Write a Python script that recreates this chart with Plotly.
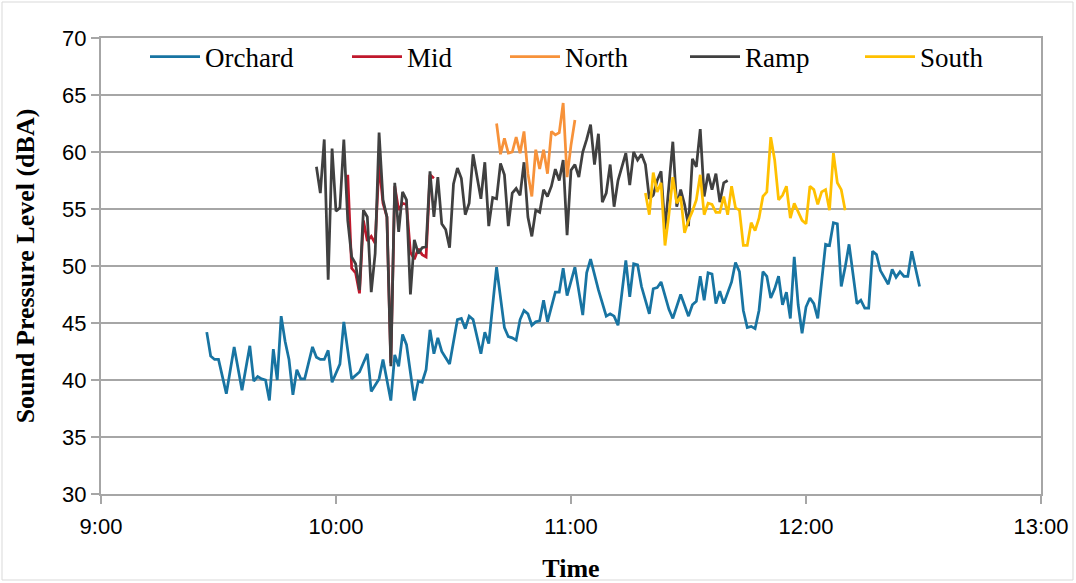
import plotly.graph_objects as go
import pandas as pd

# ---------------- data ----------------
orchard_time = ["9:27","9:28","9:29","9:30","9:32","9:34","9:36","9:38","9:39","9:40",
                "9:41","9:42","9:43","9:44","9:45","9:46","9:47","9:48","9:49","9:50",
                "9:51","9:52","9:54","9:55","9:56","9:57","9:58","9:59","10:01","10:02",
                "10:04","10:06","10:08","10:09","10:11","10:12","10:14","10:15","10:16","10:17",
                "10:18","10:20","10:21","10:22","10:23","10:24","10:25","10:26","10:27","10:29",
                "10:31","10:32","10:33","10:34","10:35","10:37","10:38","10:39","10:41","10:43",
                "10:44","10:45","10:46","10:47","10:48","10:49","10:50","10:51","10:52","10:53",
                "10:54","10:56","10:57","10:58","10:59","11:01","11:03","11:04","11:05","11:07",
                "11:09","11:10","11:11","11:12","11:14","11:15","11:16","11:17","11:18","11:20",
                "11:21","11:22","11:23","11:25","11:26","11:28","11:30","11:31","11:32","11:33",
                "11:34","11:35","11:36","11:37","11:38","11:39","11:41","11:42","11:43","11:44",
                "11:45","11:46","11:47","11:48","11:49","11:50","11:51","11:52","11:53","11:54",
                "11:55","11:56","11:57","11:58","11:59","12:00","12:01","12:02","12:03","12:05",
                "12:06","12:07","12:08","12:09","12:10","12:11","12:13","12:14","12:15","12:16",
                "12:17","12:18","12:19","12:21","12:22","12:23","12:24","12:25","12:26","12:27",
                "12:29"]
orchard_dba = [44.2,42.1,41.8,41.8,38.8,42.9,39.1,43.0,39.9,40.3,
               40.1,40.0,38.2,42.7,40.0,45.6,43.4,41.8,38.7,40.9,
               40.1,40.1,42.9,42.0,41.8,41.8,42.6,39.8,41.4,45.1,
               40.1,40.7,42.3,39.0,40.1,41.8,38.2,42.2,41.2,44.0,
               43.1,38.2,39.9,39.8,40.9,44.4,42.3,43.7,42.5,41.4,
               45.3,45.4,44.5,45.6,45.3,42.3,44.2,43.2,49.9,44.6,
               43.8,43.7,43.5,45.3,46.1,45.8,44.8,45.1,45.2,47.0,
               45.1,47.7,47.7,49.8,47.4,49.9,45.7,49.4,50.6,47.9,
               45.6,45.8,45.6,44.8,50.5,47.3,50.2,50.1,48.2,45.8,
               48.0,48.1,48.6,46.2,45.4,47.5,45.6,46.6,46.9,49.1,
               47.0,49.4,49.3,46.7,47.8,46.7,48.6,50.3,49.5,46.1,
               44.6,44.7,44.5,46.1,49.5,49.1,47.2,48.0,49.1,46.6,
               47.7,45.4,50.8,46.6,44.1,46.4,47.2,46.7,45.4,51.9,
               51.8,53.8,53.7,48.2,49.9,51.9,46.7,47.0,46.3,46.3,
               51.3,51.0,49.6,48.4,49.7,49.0,49.5,49.1,49.1,51.3,
               48.2]

mid_time = ["10:03","10:04","10:05","10:06","10:07","10:08","10:09","10:10","10:11","10:12",
            "10:13","10:14","10:15","10:16","10:17","10:18","10:19","10:20","10:21","10:22",
            "10:23","10:24","10:25"]
mid_dba = [58.0,49.8,49.4,47.6,54.0,52.2,52.6,52.0,59.0,55.5,
           54.3,41.5,57.0,54.9,55.5,55.4,51.2,50.6,51.5,51.0,
           50.8,58.0,57.7]

north_time = ["10:41","10:42","10:43","10:44","10:45","10:46","10:47","10:48","10:49","10:50",
              "10:51","10:52","10:53","10:54","10:55","10:56","10:57","10:58","10:59","11:00",
              "11:01"]
north_dba = [62.5,59.8,61.2,59.9,60.0,61.3,59.9,61.8,58.1,56.1,
             60.2,58.5,60.2,58.1,61.8,61.5,61.7,64.3,57.8,60.6,
             62.8]

ramp_time = ["9:55","9:56","9:57","9:58","9:59","10:00","10:01","10:02","10:03","10:04",
             "10:05","10:06","10:07","10:08","10:09","10:10","10:11","10:12","10:13","10:14",
             "10:15","10:16","10:17","10:18","10:19","10:20","10:21","10:22","10:23","10:24",
             "10:25","10:26","10:27","10:28","10:29","10:30","10:31","10:32","10:33","10:34",
             "10:35","10:36","10:37","10:38","10:39","10:40","10:41","10:42","10:43","10:44",
             "10:45","10:46","10:47","10:48","10:49","10:50","10:51","10:52","10:53","10:54",
             "10:55","10:56","10:57","10:58","10:59","11:00","11:01","11:02","11:03","11:04",
             "11:05","11:06","11:07","11:08","11:09","11:10","11:11","11:12","11:13","11:14",
             "11:15","11:16","11:17","11:18","11:19","11:20","11:21","11:22","11:23","11:24",
             "11:26","11:27","11:28","11:29","11:30","11:31","11:32","11:33","11:34","11:35",
             "11:36","11:37","11:38","11:39","11:40"]
ramp_dba = [58.7,56.4,61.1,48.8,60.3,54.8,55.1,61.1,54.0,50.8,
            50.2,47.9,54.9,54.3,47.7,51.1,61.7,55.8,54.3,41.2,
            57.3,53.0,56.5,55.8,47.5,52.3,51.1,51.6,51.7,58.3,
            54.3,57.8,53.7,53.2,51.6,57.2,58.6,57.7,54.5,55.5,
            59.8,58.0,55.9,59.1,53.5,56.0,55.9,59.0,58.0,53.5,
            56.4,56.8,56.2,59.1,54.3,52.6,54.9,54.7,56.7,56.1,
            57.0,58.5,57.5,59.3,52.7,58.4,58.9,57.8,60.0,61.1,
            62.4,58.9,61.6,55.6,56.4,58.9,55.2,57.5,58.6,59.9,
            57.1,60.0,59.3,59.8,58.9,55.9,56.2,57.5,58.3,53.2,
            60.9,55.2,56.7,55.4,53.5,59.4,58.7,62.0,56.1,58.1,
            56.7,58.1,55.6,57.3,57.5]

south_time = ["11:19","11:20","11:21","11:22","11:23","11:24","11:25","11:26","11:27","11:28",
              "11:29","11:30","11:31","11:32","11:33","11:34","11:35","11:36","11:37","11:38",
              "11:39","11:40","11:41","11:42","11:43","11:44","11:45","11:46","11:47","11:48",
              "11:49","11:50","11:51","11:52","11:53","11:54","11:55","11:56","11:57","11:58",
              "11:59","12:00","12:01","12:02","12:03","12:04","12:05","12:06","12:07","12:08",
              "12:09","12:10"]
south_dba = [56.4,54.5,58.2,56.5,57.3,51.8,54.5,57.8,55.5,56.1,
             52.9,54.0,54.8,55.8,58.0,54.5,55.5,55.4,54.7,54.7,
             56.1,54.5,57.0,55.1,54.9,51.8,51.8,53.8,53.1,54.2,
             56.1,56.5,61.3,59.3,55.8,56.2,57.0,54.2,55.5,54.8,
             54.0,53.7,57.0,56.7,55.4,56.5,56.7,54.9,59.9,57.3,
             56.7,54.9]

series_names = ["Orchard", "Mid", "North", "Ramp", "South"]
series_colors = ["#1874a2", "#c0182c", "#f7923a", "#404040", "#ffc000"]

x_ticks = ["9:00", "10:00", "11:00", "12:00", "13:00"]
y_ticks = [30, 35, 40, 45, 50, 55, 60, 65, 70]


def to_dt(times):
    out = []
    for t in times:
        h, m = t.split(":")
        out.append(pd.Timestamp("2000-01-01") + pd.Timedelta(hours=int(h), minutes=int(m)))
    return out


series = [(orchard_time, orchard_dba), (mid_time, mid_dba), (north_time, north_dba),
          (ramp_time, ramp_dba), (south_time, south_dba)]

# ---------------- layout geometry ----------------
W, H = 1076, 583
ML, MR, MT, MB = 101, 35, 38, 89
PW, PH = W - ML - MR, H - MT - MB

serif = "Liberation Serif"
sans = "Liberation Sans"
grid_col = "#a6a6a6"

fig = go.Figure()
legend_px = [145, 347, 505, 685, 860]  # left edge of each legend entry (px)
for i, ((t, v), name, col) in enumerate(zip(series, series_names, series_colors)):
    lg = "legend" if i == 0 else f"legend{i+1}"
    fig.add_trace(go.Scatter(x=to_dt(t), y=v, mode="lines", name=name,
                             line=dict(color=col, width=2.75), legend=lg))

legend_common = dict(orientation="h", xanchor="left", yanchor="middle",
                     bgcolor="rgba(0,0,0,0)", font=dict(family=serif, size=27, color="#000"),
                     itemwidth=50)
leg_layout = {}
for i, px in enumerate(legend_px):
    key = "legend" if i == 0 else f"legend{i+1}"
    leg_layout[key] = dict(legend_common, x=(px - ML) / PW, y=(H - MB - 57) / PH)

dt_ticks = to_dt(x_ticks)
fig.update_layout(
    width=W, height=H,
    margin=dict(l=ML, r=MR, t=MT, b=MB, pad=0, autoexpand=False),
    paper_bgcolor="white", plot_bgcolor="white",
    showlegend=True,
    xaxis=dict(type="date", range=[dt_ticks[0], dt_ticks[-1]],
               tickvals=dt_ticks, ticktext=x_ticks, automargin=False,
               showgrid=False, zeroline=False,
               showline=True, linecolor=grid_col, linewidth=2, mirror=True,
               ticks="outside", ticklen=8, tickcolor=grid_col, tickwidth=1.5,
               ticklabelstandoff=4,
               tickfont=dict(family=sans, size=22, color="#000"),
               title=dict(text="<b>Time</b>", font=dict(family=serif, size=26, color="#000"),
                          standoff=20)),
    yaxis=dict(range=[30, 70], tickvals=y_ticks, automargin=False,
               showgrid=True, gridcolor=grid_col, gridwidth=1.5, zeroline=False,
               showline=True, linecolor=grid_col, linewidth=2, mirror=True,
               ticks="outside", ticklen=8, tickcolor=grid_col, tickwidth=1.5,
               tickfont=dict(family=sans, size=22, color="#000"),
               title=dict(text="<b>Sound Pressure Level (dBA)</b>",
                          font=dict(family=serif, size=26, color="#000"), standoff=20)),
    **leg_layout,
)

# outer chart frame
fig.add_shape(type="rect", xref="paper", yref="paper",
              x0=(2 - ML) / PW, x1=(W - 3 - ML) / PW,
              y0=(H - MB - (H - 3)) / PH, y1=(H - MB - 2) / PH,
              line=dict(color="#d9d9d9", width=1), fillcolor="rgba(0,0,0,0)", layer="below")

fig.write_html("out.html", config={"displayModeBar": False},
               post_script="document.body.style.margin='0px';")
